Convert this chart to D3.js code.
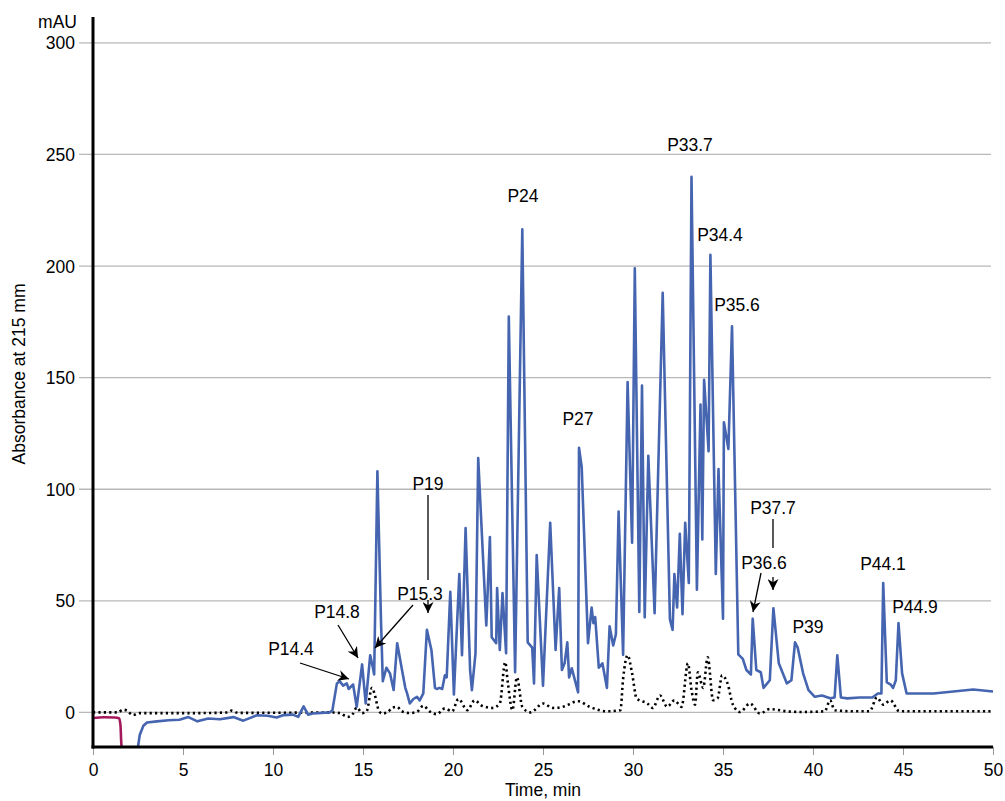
<!DOCTYPE html>
<html><head><meta charset="utf-8">
<script src="https://cdn.jsdelivr.net/npm/d3@7"></script>
<style>body{margin:0;background:#fff}svg{display:block;font-family:"Liberation Sans",Arial,Helvetica,sans-serif}</style>
</head><body>
<svg id="c" width="1005" height="801"></svg>
<script>
// ---- data ----
const xTicks = [0,5,10,15,20,25,30,35,40,45,50];
const yTicks = [0,50,100,150,200,250,300];
const blankTime = [0,0.6,1.2,1.45,1.53,1.56,1.6];
const blankValue = [-2.5,-2.2,-2.3,-2.6,-6,-12,-17];
const sampleTime = [2.47,2.6,2.8,3.0,3.55,4.2,4.8,5.3,5.8,6.4,7.05,7.8,8.35,9.1,9.7,10.2,10.6,11.1,11.4,11.7,11.95,12.2,13.15,13.3,13.55,13.7,13.9,14.1,14.2,14.45,14.65,14.95,15.15,15.4,15.55,15.62,15.8,16.0,16.1,16.3,16.5,16.7,16.9,17.0,17.2,17.35,17.45,17.6,17.8,18.0,18.15,18.35,18.55,18.8,19.0,19.1,19.25,19.4,19.55,19.65,19.85,20.05,20.35,20.5,20.7,20.95,21.05,21.25,21.4,21.85,22.05,22.15,22.4,22.45,22.6,22.75,22.95,23.1,23.45,23.85,24.15,24.4,24.5,24.65,25.0,25.4,25.7,25.9,26.05,26.2,26.35,26.45,26.6,26.95,27.0,27.15,27.5,27.7,27.8,27.9,28.1,28.3,28.55,28.7,28.9,29.05,29.2,29.45,29.7,29.95,30.1,30.35,30.5,30.65,30.85,31.2,31.65,32.05,32.2,32.3,32.45,32.6,32.75,32.9,33.1,33.25,33.55,33.75,33.85,33.95,34.2,34.3,34.6,34.75,35.0,35.05,35.3,35.5,35.85,36.1,36.3,36.55,36.65,36.85,37.1,37.25,37.6,37.8,38.1,38.55,38.8,39.0,39.15,39.45,39.75,40.1,40.5,40.95,41.2,41.35,41.55,41.9,42.6,43.3,43.6,43.8,43.9,44.1,44.3,44.45,44.6,44.75,44.95,45.2,45.95,46.7,47.8,48.9,50];
const sampleValue = [-17,-10,-6,-4.5,-4,-3.5,-3.3,-2.1,-4,-2.7,-3.1,-2.1,-3.7,-1.3,-1.5,-2.3,-1.2,-1,-2,2.7,-1,-0.5,0,1,13,14,12,13,10.5,12.5,2.5,21.5,4,25.6,20,17,108,41,14,20,17.5,10,31,26.5,17.5,11,8.5,4,6,7,5.4,8.5,37,28,11,10.5,11,10.5,16.6,15.7,54,8,62,25.6,82.6,19,10,26.5,114,39,78.6,33.7,31,55.7,28,53.5,26.5,177.4,18,216.5,31.4,29,13,70.5,12,85,28,55.7,19,22,31.4,15.7,19.8,9,118.6,110,31,47,40,42.7,20,22,11,38.6,30,35,90,25.8,148,76,199,45,146.5,42.6,115,44.5,188,41.8,37,62,47,80,44,85,58,240,55,138,77.5,149,117,205,62,109,42,130,118,173,26,24,19,17,42,19,18,11,14.4,46.7,22,13,14.4,31.4,29,17.5,10,7,7.6,6.3,6.7,25.6,6.7,6.3,6.7,6.7,8.5,8.5,58,13.5,12.6,11,14.4,40,17.5,8.5,8.5,8.5,9.4,10.3,9.4];
const refTime = [0,0.95,1.4,1.65,1.9,2.2,2.6,5.9,7.5,7.7,8.05,11.5,13.2,13.7,14.15,14.45,14.65,14.95,15.2,15.5,15.65,15.85,16.05,16.35,16.65,16.9,17.15,17.6,18.0,18.35,18.7,19.1,19.55,19.95,20.3,20.8,21.2,21.6,22.2,22.6,22.9,23.05,23.3,23.55,23.85,24.3,25.0,25.55,26.1,26.95,27.6,28.55,29.3,29.45,29.7,29.95,30.2,30.8,31.1,31.5,31.9,32.3,32.7,33.05,33.25,33.45,33.6,33.9,34.15,34.45,34.7,34.95,35.25,35.55,35.95,36.5,37.05,37.6,38.55,39.3,40.65,40.95,41.2,42.2,43.15,43.55,43.9,44.3,44.8,45.95,50];
const refValue = [0,0,0,1.2,0.8,-1.2,-0.3,-0.3,0,0.8,-0.2,-0.1,0,-0.3,-2,-0.5,2.2,-0.3,0.5,11,8,1.5,-0.5,0,2.2,2.5,0.5,-0.3,0.3,3,0.5,-0.8,1.8,0.5,6,1,5.4,3,2,4,22.5,13,1,15.7,2.5,0,4,2,2.5,5,2.5,0.5,1,15,25.6,17.5,6.3,4,2,7.6,2.5,5.4,2.5,22,10,3.5,18,11,24.7,5.5,6.3,16.6,13,3.5,0.2,4,-0.5,1.5,0.5,0.2,0.5,5.4,1,0.5,0.5,6.7,3.5,5.4,0.5,0.5,0.5];
const peakLabels = ["P14.4","P14.8","P15.3","P19","P24","P27","P33.7","P34.4","P35.6","P36.6","P37.7","P39","P44.1","P44.9"];

// ---- layout ----
const svg = d3.select("#c");
const x = d3.scaleLinear().domain([0,50]).range([93,993]);
const y = d3.scaleLinear().domain([-15.5,311.6]).range([747,17]);
const blue = "#4565b0";
const FS = 17.5;

svg.append("defs").append("clipPath").attr("id","clip")
  .append("rect").attr("x",93).attr("y",17).attr("width",905).attr("height",730);

// gridlines
svg.append("g").selectAll("line").data(yTicks).join("line")
  .attr("x1",79).attr("x2",991).attr("y1",d=>y(d)).attr("y2",d=>y(d))
  .attr("stroke","#b8b8b8").attr("stroke-width",1.3);
svg.append("g").selectAll("text").data(yTicks).join("text")
  .attr("x",75).attr("y",d=>y(d)+6.5).attr("text-anchor","end")
  .attr("font-size",FS).text(d=>d);
svg.append("text").attr("x",77).attr("y",28).attr("text-anchor","end").attr("font-size",FS).text("mAU");

// x axis ticks
const xa = svg.append("g").attr("transform","translate(0,747)")
  .call(d3.axisBottom(x).tickValues(xTicks).tickSize(8).tickPadding(9).tickFormat(d3.format("d")));
xa.select(".domain").remove();
xa.selectAll("line").attr("stroke","#999").attr("stroke-width",1);
xa.selectAll("text").attr("font-size",FS).attr("font-family","'Liberation Sans',Arial,sans-serif").attr("fill","#000");

svg.append("text").attr("x",543).attr("y",796).attr("text-anchor","middle").attr("font-size",FS).text("Time, min");
svg.append("text").attr("transform","translate(25,374) rotate(-90)").attr("text-anchor","middle").attr("font-size",FS).text("Absorbance at 215 mm");

// lines
const g = svg.append("g").attr("clip-path","url(#clip)");
const mk = (ts,vs)=>ts.map((t,i)=>[t,vs[i]]);
const lineS = d3.line().x(d=>x(d[0])).y(d=>y(d[1])).curve(d3.curveMonotoneX);
const lineL = d3.line().x(d=>x(d[0])).y(d=>y(d[1])).curve(d3.curveLinear);
g.append("path").datum(mk(refTime,refValue)).attr("d",lineS).attr("fill","none")
  .attr("stroke","#000").attr("stroke-width",2.6).attr("stroke-dasharray","2.2,3.2");
g.append("path").datum(mk(sampleTime,sampleValue)).attr("d",lineL).attr("fill","none")
  .attr("stroke",blue).attr("stroke-width",2.6).attr("stroke-linejoin","round");
g.append("path").datum(mk(blankTime,blankValue)).attr("d",lineS).attr("fill","none")
  .attr("stroke","#a3195b").attr("stroke-width",2.6);

// axes lines
svg.append("line").attr("x1",93).attr("x2",93).attr("y1",17).attr("y2",748.5).attr("stroke","#000").attr("stroke-width",3);
svg.append("line").attr("x1",91.5).attr("x2",993).attr("y1",747).attr("y2",747).attr("stroke","#000").attr("stroke-width",3);

// peak labels
const labelPos = [[291,655],[337,618],[420,600],[428,490],[523,202],[578,425],[690,151],[720,241],[737,311],[764,569],[773,514],[808,633],[883,570],[915,613]];
svg.append("g").selectAll("text").data(peakLabels).join("text")
  .attr("x",(d,i)=>labelPos[i][0]).attr("y",(d,i)=>labelPos[i][1])
  .attr("text-anchor","middle").attr("font-size",FS).text(d=>d);

// arrows
const defs = svg.select("defs");
defs.append("marker").attr("id","ah").attr("viewBox","0 0 10 10").attr("refX",10).attr("refY",5)
  .attr("markerWidth",11).attr("markerHeight",11).attr("markerUnits","userSpaceOnUse").attr("orient","auto")
  .append("path").attr("d","M0,0 L10,5 L0,10 L3,5 Z").attr("fill","#000");
const arrows = [[300,663,349,679],[338,625,358,658],[413,605,375,648],[761,573,753,612]];
svg.append("g").selectAll("line").data(arrows).join("line")
  .attr("x1",d=>d[0]).attr("y1",d=>d[1]).attr("x2",d=>d[2]).attr("y2",d=>d[3])
  .attr("stroke","#000").attr("stroke-width",1.3).attr("marker-end","url(#ah)");
const leaders = [[428,495,580,600,613],[773,519,548,577,590]];
leaders.forEach(l=>{
  svg.append("line").attr("x1",l[0]).attr("x2",l[0]).attr("y1",l[1]).attr("y2",l[2]).attr("stroke","#000").attr("stroke-width",1.3);
  svg.append("line").attr("x1",l[0]).attr("x2",l[0]).attr("y1",l[3]).attr("y2",l[4]).attr("stroke","#000").attr("stroke-width",1.3).attr("marker-end","url(#ah)");
});
</script>
</body></html>
